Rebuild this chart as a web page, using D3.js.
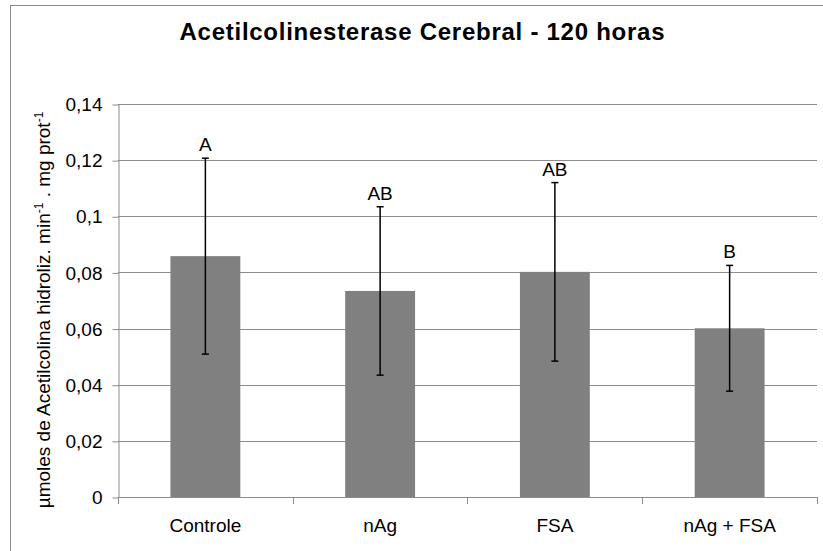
<!DOCTYPE html>
<html>
<head>
<meta charset="utf-8">
<script src="https://cdn.jsdelivr.net/npm/d3@7"></script>
<style>
  body { margin: 0; background: #fff; }
  text { font-family: "Liberation Sans", Arial, sans-serif; }
</style>
</head>
<body>
<div id="chart"></div>
<script>
// dados
var categories = ["Controle", "nAg", "FSA", "nAg + FSA"];
var means = [0.0858, 0.0734, 0.0802, 0.0601];
var errors = [0.0349, 0.0300, 0.0318, 0.0224];
var letters = ["A", "AB", "AB", "B"];
var yTicks = [0, 0.02, 0.04, 0.06, 0.08, 0.1, 0.12, 0.14];

(function () {
var width = 823, height = 551;
var plotLeft = 118, plotRight = 817, plotTop = 104, plotBottom = 497;

var svg = d3.select("#chart").append("svg")
    .attr("width", width)
    .attr("height", height);

// moldura do gráfico
svg.append("rect")
    .attr("x", 10.5).attr("y", 5.5)
    .attr("width", width + 20).attr("height", height + 20)
    .attr("fill", "none")
    .attr("stroke", "#8a8a8a");

var x = d3.scaleBand()
    .domain(categories)
    .range([plotLeft, plotRight])
    .paddingInner(0.6)
    .paddingOuter(0.3);

var y = d3.scaleLinear()
    .domain([0, 0.14])
    .range([plotBottom, plotTop]);

var fmt = function (d) { return String(+d.toFixed(2)).replace(".", ","); };

// linhas de grade
svg.append("g").selectAll("line")
    .data(yTicks.filter(function (d) { return d > 0; }))
    .enter().append("line")
    .attr("x1", plotLeft).attr("x2", plotRight)
    .attr("y1", function (d) { return Math.round(y(d)) + 0.5; })
    .attr("y2", function (d) { return Math.round(y(d)) + 0.5; })
    .attr("stroke", "#8c8c8c");

// eixo y
var yAxis = svg.append("g")
    .attr("transform", "translate(" + (plotLeft + 0.5) + ",0.5)")
    .call(d3.axisLeft(y).tickValues(yTicks).tickFormat(fmt).tickSize(6).tickSizeOuter(0).tickPadding(10));
yAxis.selectAll("path, line").attr("stroke", "#8c8c8c");
yAxis.selectAll("text").attr("font-size", 19).attr("fill", "#000")
    .style("font-family", "'Liberation Sans', Arial, sans-serif");

// barras
svg.append("g").selectAll("rect")
    .data(means)
    .enter().append("rect")
    .attr("x", function (d, i) { return x(categories[i]); })
    .attr("y", function (d) { return y(d); })
    .attr("width", x.bandwidth())
    .attr("height", function (d) { return y(0) - y(d); })
    .attr("fill", "#808080");

// eixo x
var xAxis = svg.append("g")
    .attr("transform", "translate(0," + (plotBottom + 0.5) + ")")
    .call(d3.axisBottom(x).tickSize(0).tickSizeOuter(0).tickPadding(21));
xAxis.select(".domain").attr("stroke", "#8c8c8c").attr("d", "M" + plotLeft + ",0H" + plotRight);
xAxis.selectAll("text").attr("font-size", 19).attr("fill", "#000")
    .style("font-family", "'Liberation Sans', Arial, sans-serif");

// marcas entre categorias
var step = x.step();
var bounds = categories.map(function (c) { return x(c) - step * 0.3; }).concat([plotRight]);
svg.append("g").selectAll("line")
    .data(bounds)
    .enter().append("line")
    .attr("x1", function (d) { return Math.round(d) + 0.5; })
    .attr("x2", function (d) { return Math.round(d) + 0.5; })
    .attr("y1", plotBottom).attr("y2", plotBottom + 7)
    .attr("stroke", "#8c8c8c");

// barras de erro
var eb = svg.append("g").attr("stroke", "#000").attr("stroke-width", 1.5);
means.forEach(function (m, i) {
    var cx = x(categories[i]) + x.bandwidth() / 2;
    var hi = y(m + errors[i]), lo = y(m - errors[i]);
    eb.append("line").attr("x1", cx).attr("x2", cx).attr("y1", hi).attr("y2", lo);
    eb.append("line").attr("x1", cx - 3.5).attr("x2", cx + 3.5).attr("y1", hi).attr("y2", hi);
    eb.append("line").attr("x1", cx - 3.5).attr("x2", cx + 3.5).attr("y1", lo).attr("y2", lo);
});

// letras de significância
svg.append("g").selectAll("text")
    .data(letters)
    .enter().append("text")
    .attr("x", function (d, i) { return x(categories[i]) + x.bandwidth() / 2; })
    .attr("y", function (d, i) { return y(means[i] + errors[i]) - 7; })
    .attr("text-anchor", "middle")
    .attr("font-size", 19)
    .text(function (d) { return d; });

// título
svg.append("text")
    .attr("x", 422).attr("y", 40)
    .attr("text-anchor", "middle")
    .attr("font-size", 24)
    .attr("font-weight", "bold")
    .attr("textLength", 485)
    .text("Acetilcolinesterase Cerebral - 120 horas");

// rótulo do eixo y
var yl = svg.append("text")
    .attr("transform", "translate(50,310) rotate(-90)")
    .attr("text-anchor", "middle")
    .attr("font-size", 19);
yl.append("tspan").text("µmoles de Acetilcolina hidroliz. min");
yl.append("tspan").attr("font-size", 12).attr("dy", -7).text("-1");
yl.append("tspan").attr("dy", 7).text(" . mg prot");
yl.append("tspan").attr("font-size", 12).attr("dy", -7).text("-1");
})();
</script>
</body>
</html>
